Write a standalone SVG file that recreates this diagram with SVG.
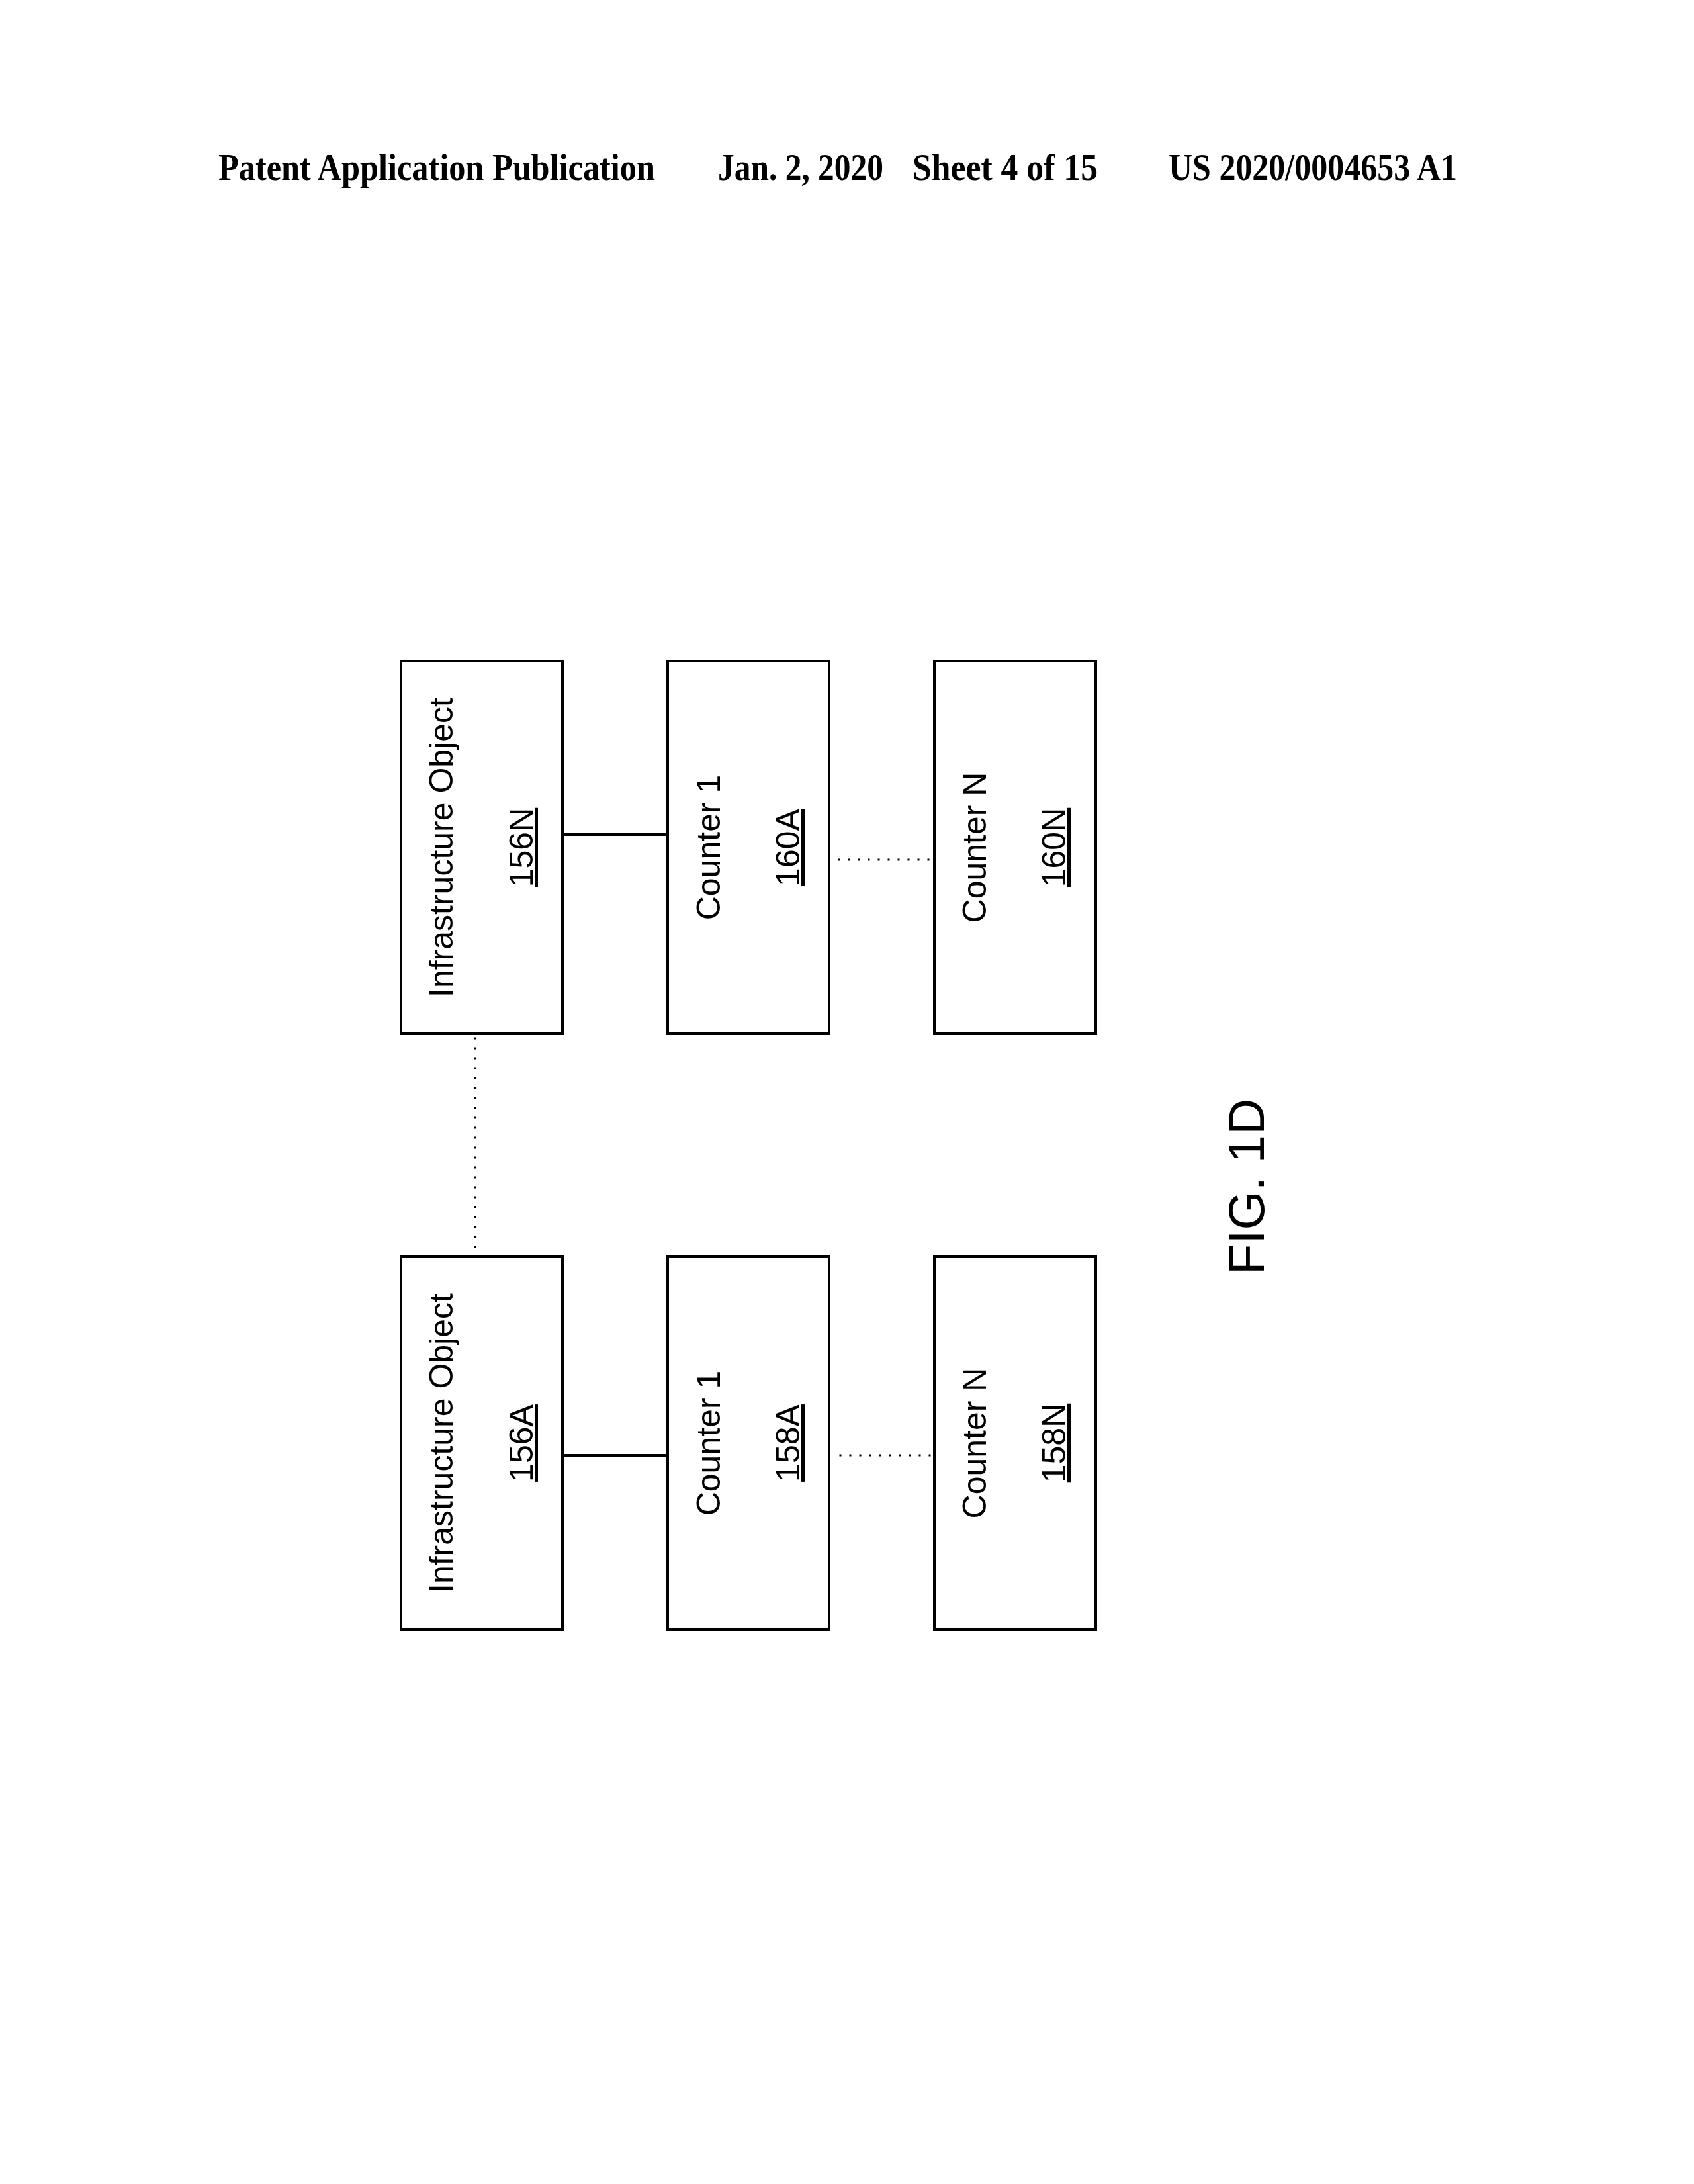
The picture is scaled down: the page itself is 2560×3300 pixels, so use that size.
<svg xmlns="http://www.w3.org/2000/svg" width="2560" height="3300" viewBox="0 0 2560 3300">
<style>
.box{fill:#fff;stroke:#000;stroke-width:4}
.t{font-family:"Liberation Sans",Arial,sans-serif;font-size:50px;text-anchor:middle;fill:#000}
.ref{text-decoration:underline}
.hdr{font-family:"Liberation Serif","Times New Roman",serif;font-weight:bold;font-size:58px;fill:#000}
.solid{stroke:#000;stroke-width:4;fill:none}
.dot{stroke:#000;stroke-width:3;fill:none;stroke-dasharray:3 12}
</style>
<rect width="2560" height="3300" fill="#fff"/>
<g id="header">
<text class="hdr" x="330" y="272" textLength="660" lengthAdjust="spacingAndGlyphs">Patent Application Publication</text>
<text class="hdr" x="1085" y="272" textLength="250" lengthAdjust="spacingAndGlyphs">Jan. 2, 2020</text>
<text class="hdr" x="1379" y="272" textLength="280" lengthAdjust="spacingAndGlyphs">Sheet 4 of 15</text>
<text class="hdr" x="1766" y="272" textLength="436" lengthAdjust="spacingAndGlyphs">US 2020/0004653 A1</text>
</g>
<g id="connectors">
<line class="solid" x1="850" y1="1261" x2="1009" y2="1261"/>
<line class="dot" x1="1266.5" y1="1299" x2="1410" y2="1299"/>
<line class="dot" x1="718" y1="1567.5" x2="718" y2="1890"/>
<line class="solid" x1="850" y1="2199" x2="1009" y2="2199"/>
<line class="dot" x1="1268.5" y1="2199" x2="1410" y2="2199"/>
</g>
<g id="node-156N">
<rect class="box" x="606" y="999" width="244" height="563"/>
<text class="t" transform="translate(684,1280.5) rotate(-90)">Infrastructure Object</text>
<text class="t ref" transform="translate(805,1280.5) rotate(-90)">156N</text>
</g>
<g id="node-160A">
<rect class="box" x="1009" y="999" width="244" height="563"/>
<text class="t" transform="translate(1088,1280.5) rotate(-90)">Counter 1</text>
<text class="t ref" transform="translate(1208,1280.5) rotate(-90)">160A</text>
</g>
<g id="node-160N">
<rect class="box" x="1412" y="999" width="244" height="563"/>
<text class="t" transform="translate(1490,1280.5) rotate(-90)">Counter N</text>
<text class="t ref" transform="translate(1610,1280.5) rotate(-90)">160N</text>
</g>
<g id="node-156A">
<rect class="box" x="606" y="1899" width="244" height="563"/>
<text class="t" transform="translate(684,2180.5) rotate(-90)">Infrastructure Object</text>
<text class="t ref" transform="translate(805,2180.5) rotate(-90)">156A</text>
</g>
<g id="node-158A">
<rect class="box" x="1009" y="1899" width="244" height="563"/>
<text class="t" transform="translate(1088,2180.5) rotate(-90)">Counter 1</text>
<text class="t ref" transform="translate(1208,2180.5) rotate(-90)">158A</text>
</g>
<g id="node-158N">
<rect class="box" x="1412" y="1899" width="244" height="563"/>
<text class="t" transform="translate(1490,2180.5) rotate(-90)">Counter N</text>
<text class="t ref" transform="translate(1610,2180.5) rotate(-90)">158N</text>
</g>
<g id="caption">
<text class="t" style="font-size:76px" transform="translate(1910,1793) rotate(-90)">FIG. 1D</text>
</g>
</svg>
